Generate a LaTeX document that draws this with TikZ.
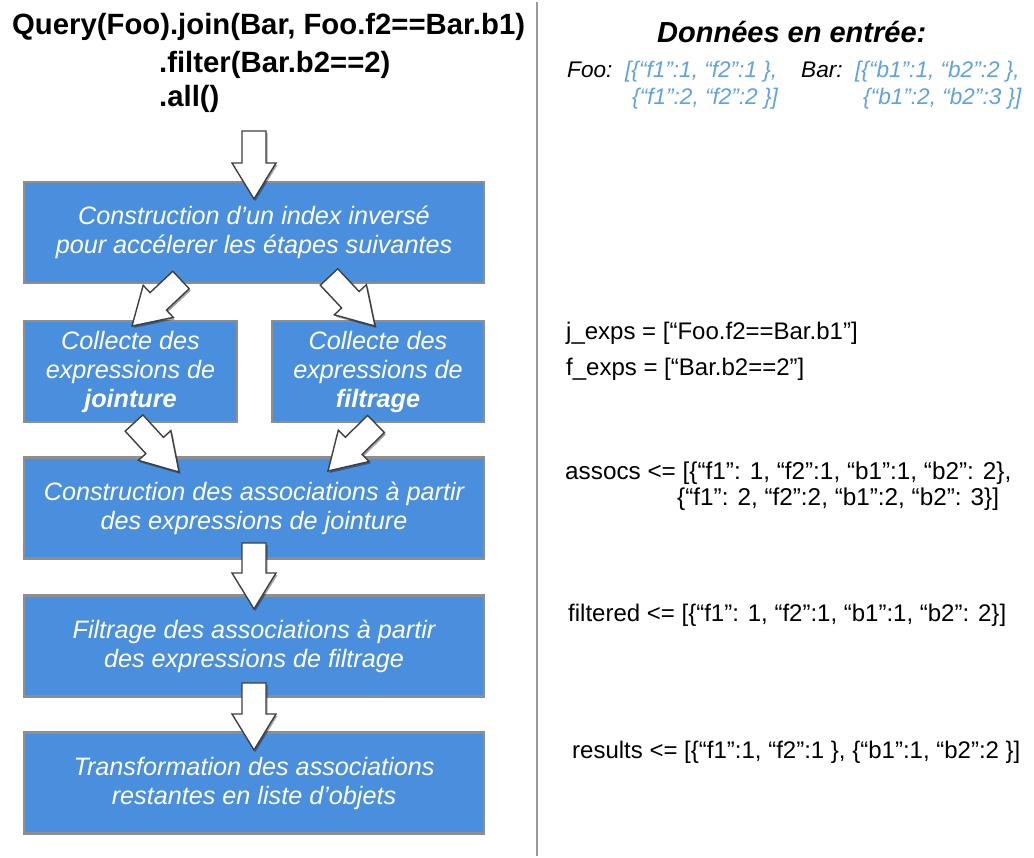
\documentclass[tikz,border=0pt]{standalone}
\usepackage{fontspec}
\setmainfont{Liberation Sans}
\usetikzlibrary{calc,shadows}
\definecolor{boxblue}{HTML}{4A8FDE}
\definecolor{boxgray}{HTML}{8E8E8E}
\definecolor{arrowgray}{HTML}{3F3F3F}
\definecolor{datablue}{HTML}{5FA2E8}
\definecolor{divgray}{HTML}{9A9A9A}
\newcommand\blockarrow[2]{%
  \path ($(#2)!36pt!(#1)$) coordinate (ba-n);
  \draw[barrow] ($(#1)!12pt!90:(#2)$) -- ($(ba-n)!12pt!-90:(#1)$) -- ($(ba-n)!22pt!-90:(#1)$) -- (#2)
    -- ($(ba-n)!22pt!90:(#1)$) -- ($(ba-n)!12pt!90:(#1)$) -- ($(#1)!12pt!-90:(#2)$) -- cycle;}
\begin{document}
\begin{tikzpicture}[x=1pt,y=-1pt,
  stage/.style={draw=boxgray, line width=2.8pt, fill=boxblue, minimum width=460pt, minimum height=101pt, inner sep=0pt},
  halfstage/.style={stage, minimum width=213pt},
  btext/.style={text=white, font=\fontsize{25.2}{29}\selectfont\itshape, align=center, inner sep=0pt},
  barrow/.style={draw=arrowgray, line width=1.4pt, fill=white, line join=miter,
    drop shadow={shadow xshift=1.5pt, shadow yshift=-2pt, opacity=0.35, fill=black}},
  title/.style={font=\fontsize{29.3}{33}\selectfont\bfseries, anchor=base west, inner sep=0pt},
  data/.style={font=\fontsize{22.6}{27}\selectfont\itshape, anchor=base west, inner sep=0pt},
  code/.style={font=\fontsize{24}{29}\selectfont, anchor=base west, inner sep=0pt}]
\useasboundingbox (0,0) rectangle (1034,858);
\fill[white] (0,0) rectangle (1034,858);
% divider
\draw[divgray, line width=1.8pt] (537,2) coordinate (d1) -- (537,856) coordinate (d2);
% title
\node[title] (q1) at (12,35) {Query(Foo).join(Bar, Foo.f2==Bar.b1)};
\node[title] (q2) at (159,73) {.filter(Bar.b2==2)};
\node[title] (q3) at (159,107) {.all()};
% boxes
\node[stage] (b1) at (254,232.5) {};
\node[halfstage] (b2a) at (130.5,371.5) {};
\node[halfstage, minimum width=212pt] (b2b) at (378,371.5) {};
\node[stage] (b3) at (254,508) {};
\node[stage] (b4) at (254,646) {};
\node[stage] (b5) at (254,783) {};
\node[btext] (t1) at (b1.center) {Construction d’un index inversé\\pour accélerer les étapes suivantes};
\node[btext] (t2a) at (b2a.center) {Collecte des\\expressions de\\\textbf{jointure}};
\node[btext] (t2b) at (b2b.center) {Collecte des\\expressions de\\\textbf{filtrage}};
\node[btext] (t3) at (b3.center) {Construction des associations à partir\\des expressions de jointure};
\node[btext] (t4) at (b4.center) {Filtrage des associations à partir\\des expressions de filtrage};
\node[btext] (t5) at (b5.center) {Transformation des associations\\restantes en liste d’objets};
% arrows
\coordinate (a0t) at (254,131); \coordinate (a0h) at (254,199);
\coordinate (a1t) at (181,280); \coordinate (a1h) at (132,326);
\coordinate (a2t) at (329,277); \coordinate (a2h) at (375,326);
\coordinate (a3t) at (134,423); \coordinate (a3h) at (179,472);
\coordinate (a4t) at (376,424); \coordinate (a4h) at (328,471);
\coordinate (a5t) at (254,543); \coordinate (a5h) at (254,609);
\coordinate (a6t) at (254,683); \coordinate (a6h) at (254,750);
\blockarrow{a0t}{a0h}
\blockarrow{a1t}{a1h}
\blockarrow{a2t}{a2h}
\blockarrow{a3t}{a3h}
\blockarrow{a4t}{a4h}
\blockarrow{a5t}{a5h}
\blockarrow{a6t}{a6h}
% right side
\node[font=\fontsize{29}{33}\selectfont\bfseries\itshape, anchor=base west, inner sep=0pt] (din) at (657,43) {Données en entrée:};
\node[data] (foo) at (567,78) {Foo:};
\node[data, text=datablue] (foo1) at (625,78) {[\{“f1”:1, “f2”:1 \},};
\node[data, text=datablue] (foo2) at (632,105) {\{“f1”:2, “f2”:2 \}]};
\node[data] (bar) at (801,78) {Bar:};
\node[data, text=datablue] (bar1) at (855,78) {[\{“b1”:1, “b2”:2 \},};
\node[data, text=datablue] (bar2) at (863,105) {\{“b1”:2, “b2”:3 \}]};
\node[code] (jx) at (566,340) {j\_exps = [“Foo.f2==Bar.b1”]};
\node[code] (fx) at (566,376) {f\_exps = [“Bar.b2==2”]};
\node[code, font=\fontsize{24.3}{29}\selectfont] (as1) at (565,480) {assocs <= [\{“f1”: 1, “f2”:1, “b1”:1, “b2”: 2\},};
\node[code, font=\fontsize{24.3}{29}\selectfont] (as2) at (677,505) {\{“f1”: 2, “f2”:2, “b1”:2, “b2”: 3\}]};
\node[code] (fi) at (568,621) {filtered <= [\{“f1”: 1, “f2”:1, “b1”:1, “b2”: 2\}]};
\node[code] (re) at (572,758) {results <= [\{“f1”:1, “f2”:1 \}, \{“b1”:1, “b2”:2 \}]};
\end{tikzpicture}
\end{document}
